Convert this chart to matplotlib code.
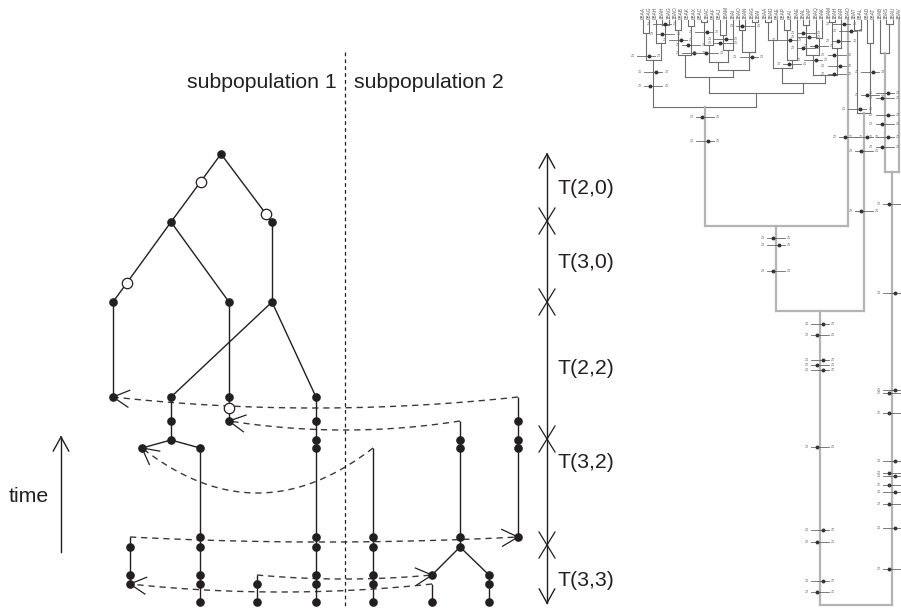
import numpy as np
import matplotlib
matplotlib.use("Agg")
import matplotlib.pyplot as plt

plt.rcParams['font.family'] = ['Liberation Sans', 'DejaVu Sans']

INK = '#231f20'

# ---------------- left coalescent diagram (pixel coordinates) ----------------
solid_edges = [
    ((221, 154), (171, 222)), ((221, 154), (272, 222)),
    ((171, 222), (113, 302)), ((171, 222), (229, 302)),
    ((272, 222), (272, 302)),
    ((113, 302), (113, 397)), ((229, 302), (229, 397)),
    ((272, 302), (171, 397)), ((272, 302), (316, 397)),
    ((171, 397), (171, 440)), ((171, 440), (142, 448)), ((171, 440), (200, 448)),
    ((200, 448), (200, 602)), ((229, 397), (229, 421)), ((316, 397), (316, 602)),
    ((130, 537), (130, 584)), ((257, 575), (257, 602)),
    ((373, 448), (373, 602)), ((460, 421), (460, 547)),
    ((460, 547), (432, 575)), ((460, 547), (489, 575)),
    ((489, 575), (489, 602)), ((432, 584), (432, 602)),
    ((518, 397), (518, 537)),
]
node_x = [221, 171, 272, 113, 229, 272,
          113, 171, 229, 316,
          171, 229, 316, 518,
          171, 316, 460, 518,
          142, 200, 316, 460, 518,
          200, 316, 373, 460, 518,
          130, 200, 316, 373, 460,
          130, 200, 316, 373, 432, 489,
          130, 200, 257, 316, 373, 489,
          200, 257, 316, 373, 432, 489]
node_y = [154, 222, 222, 302, 302, 302,
          397, 397, 397, 397,
          421, 421, 421, 421,
          440, 440, 440, 440,
          448, 448, 448, 448, 448,
          537, 537, 537, 537, 537,
          547, 547, 547, 547, 547,
          575, 575, 575, 575, 575, 575,
          584, 584, 584, 584, 584, 584,
          602, 602, 602, 602, 602, 602]
open_x = [201, 266, 127, 229]
open_y = [182, 214, 283, 408]

# migration curves: start, control, end (arrow at end)
mig_start = [(518, 397), (460, 421), (373, 448), (130, 537), (257, 575), (432, 584)]
mig_ctrl = [(315, 419), (345, 439), (257, 538), (324, 547), (345, 583), (281, 600)]
mig_end = [(113, 397), (229, 421), (142, 448), (518, 537), (432, 575), (130, 584)]

# time axis
axis_x = 547
axis_top, axis_bottom = 154, 603
cross_y = [221, 302, 439, 545]
interval_labels = ['T(2,0)', 'T(3,0)', 'T(2,2)', 'T(3,2)', 'T(3,3)']
interval_label_y = [188, 262, 368, 463, 580]

# ---------------- right genealogy (pixel coordinates) ----------------
leaf_labels = ["0BAA", "0BAG", "0BAH", "1BAH", "1BAG", "1BAO", "0BAB", "0BAK", "0BAX",
               "0BAC", "1BAC", "0BAF", "0BAJ", "1BAM", "1BAI", "1BAO", "1BAN", "1BAG",
               "1BAI", "1BAA", "1BAD", "0BAE", "0BAP", "0BAI", "1BAE", "1BAL", "1BAP",
               "1BAQ", "1BAK", "1BAM", "1BAH", "1BAR", "1BAO", "1BAT", "0BAL", "0BAD",
               "0BAT", "1BAB", "1BAS", "1BAU", "1BAV"]
tree = {
    "a0": (33, [0, 1]), "a1": (25, [3, 4]), "a2": (43, [2, "a1"]), "A1": (60, ["a0", "a2"]),
    "b1": (30, [5, 6]), "b2": (26, [7, 8]), "B3": (55, ["b1", "b2"]),
    "b4": (22, [9, 10]), "B5": (45, ["b4", 11]), "b6": (35, [12, 13]), "B7": (50, ["b6", 14]),
    "B8": (62, ["B5", "B7"]), "b9": (30, [15, 16]), "b10": (22, [17, 18]),
    "B11": (52, ["b9", "b10"]), "B12": (70, ["B8", "B11"]), "A2a": (77, ["B3", "B12"]),
    "c1": (22, [19, 20]), "C2": (40, ["c1", 21]), "c3": (30, [22, 23]), "C4": (60, ["c3", 24]),
    "C5": (68, ["C2", "C4"]), "c6": (25, [25, 26]), "c7": (38, [27, 28]),
    "C8": (55, ["c6", "c7"]), "c9": (22, [29, 30]), "C10": (48, ["c9", 31]),
    "C11": (75, ["C8", "C10"]), "A2b": (83, ["C5", "C11"]), "A2": (93, ["A2a", "A2b"]),
    "A": (107, ["A1", "A2"]), "AD": (226, ["A", 32]),
    "e0": (30, [33, 34]), "e1": (43, [35, 36]), "E": (113, ["e0", "e1"]),
    "ADE": (311, ["AD", "E"]),
    "f0": (24, [38, 39]), "f1": (53, [37, "f0"]), "F": (172, ["f1", 40]),
    "root": (605, ["ADE", "F"]),
}
# migration events: branch, height, direction
event_branch = ["A", "A", "AD", "AD", "AD", "E", "E", "E", 32, 32,
                "ADE", "ADE", "ADE", "ADE", "ADE", "ADE", "ADE", "ADE", "ADE", "ADE",
                "F", "F", "F", "F", "F", "F", "F", "F", "F", "F", "F", "F", "F",
                "f1", "f1", "f1", "f1", "f1", "f1", "e1", "e1", "e0",
                "A1", "A1", "a0", "c6", "c6", "c6", "C8", "C10", "C10", "C10",
                31, 31, "b6", "b6", "b4", "b2", "b2", "B5", 3, "a1", "b1", "C4", "c3", 16, "B11", "c7"]
event_y = [117, 141, 238, 245, 271, 137, 151, 211, 31, 137,
           324, 335, 360, 365, 370, 447, 530, 542, 581, 592,
           204, 293, 390, 393, 413, 461, 473, 476, 485, 492, 504, 528, 569,
           93, 98, 115, 124, 137, 147, 72, 95, 109,
           72, 86, 56, 33, 37, 48, 60, 55, 66, 74,
           24, 41, 39, 43, 32, 45, 53, 53, 24, 34, 40, 64, 40, 26, 57, 46]
event_dir = [-1, 1, -1, 1, -1, 1, -1, -1, 1, -1,
             1, -1, 1, -1, 1, -1, 1, -1, 1, -1,
             -1, 1, 1, -1, -1, 1, -1, 1, -1, 1, -1, 1, -1,
             1, -1, 1, -1, 1, -1, 1, -1, 1,
             1, -1, 1, -1, 1, -1, 1, -1, 1, -1,
             1, -1, 1, -1, 1, -1, 1, -1, 1, -1, 1, -1, 1, -1, 1, -1]

# ---------------- figure ----------------
fig = plt.figure(figsize=(9.01, 6.08), dpi=100)
ax = fig.add_axes([0, 0, 1, 1])
ax.set_xlim(0, 901)
ax.set_ylim(608, 0)
ax.axis('off')

FS = 15.3

# divider
ax.plot([345, 345], [52, 608], color=INK, lw=0.9, ls=(0, (3, 2.5)))
ax.text(337, 82, 'subpopulation 1', ha='right', va='center', fontsize=FS, color=INK)
ax.text(354, 82, 'subpopulation 2', ha='left', va='center', fontsize=FS, color=INK)

for (p, q) in solid_edges:
    ax.plot([p[0], q[0]], [p[1], q[1]], color=INK, lw=1.0, solid_capstyle='butt', zorder=2)


def vhead(tip, back, L=18, ang=np.deg2rad(28), **kw):
    back = np.asarray(back, float)
    back = back / np.hypot(*back)
    for s in (1, -1):
        c, sn = np.cos(s * ang), np.sin(s * ang)
        d = np.array([back[0] * c - back[1] * sn, back[0] * sn + back[1] * c])
        ax.plot([tip[0], tip[0] + L * d[0]], [tip[1], tip[1] + L * d[1]], **kw)


t = np.linspace(0, 1, 80)[:, None]
for s, c, e in zip(mig_start, mig_ctrl, mig_end):
    s, c, e = map(lambda v: np.asarray(v, float), (s, c, e))
    pts = (1 - t) ** 2 * s + 2 * (1 - t) * t * c + t ** 2 * e
    ax.plot(pts[:, 0], pts[:, 1], color='#3a3a3a', lw=1.0, ls=(0, (4.5, 3.5)), zorder=1)
    vhead(e, c - e, color=INK, lw=0.9, zorder=2)

ax.plot(node_x, node_y, 'o', ms=5.2, color=INK, mec=INK, zorder=3)
ax.plot(open_x, open_y, 'o', ms=7.5, mfc='white', mec=INK, mew=0.9, zorder=3)

# time axis
ax.plot([axis_x, axis_x], [axis_top, axis_bottom], color=INK, lw=1.0)
vhead((axis_x, axis_top), (0, 1), L=16, ang=np.deg2rad(29), color=INK, lw=1.0)
vhead((axis_x, axis_bottom), (0, -1), L=16, ang=np.deg2rad(29), color=INK, lw=1.0)
for cy in cross_y:
    ax.plot([axis_x - 8, axis_x + 8], [cy - 13, cy + 13], color=INK, lw=0.9)
    ax.plot([axis_x - 8, axis_x + 8], [cy + 13, cy - 13], color=INK, lw=0.9)
for lab, ly in zip(interval_labels, interval_label_y):
    ax.text(557, ly, lab, ha='left', va='center', fontsize=FS, color=INK)

# "time" arrow
ax.plot([61, 61], [552, 437], color=INK, lw=1.0)
vhead((61, 437), (0, 1), L=16, ang=np.deg2rad(29), color=INK, lw=1.0)
ax.text(29, 496, 'time', ha='center', va='center', fontsize=FS, color=INK)

# ---------------- right genealogy ----------------
leaf_x0, leaf_dx, leaf_top = 643, 6.4, 20
pos = {}


def place(key):
    if key in pos:
        return pos[key]
    if isinstance(key, int):
        pos[key] = (leaf_x0 + leaf_dx * key, leaf_top)
        return pos[key]
    h, kids = tree[key]
    xs = []
    deep = h >= 170
    col = '#b4b4b4' if deep else '#6e6e6e'
    lw = 1.6 if deep else 0.8
    for k in kids:
        kx, ky = place(k)
        ax.plot([kx, kx], [ky, h], color=col, lw=lw, zorder=1)
        xs.append(kx)
    ax.plot([min(xs), max(xs)], [h, h], color=col, lw=lw, zorder=1)
    pos[key] = (float(np.mean(xs)), h)
    return pos[key]


place("root")

for i, lab in enumerate(leaf_labels):
    ax.text(leaf_x0 + leaf_dx * i, leaf_top - 1, lab, rotation=90, ha='center', va='bottom',
            fontsize=3.4, color='#555555')

for br, ey, d in zip(event_branch, event_y, event_dir):
    bx = pos[br][0]
    ax.plot([bx - 9, bx + 9], [ey, ey], color='#666666', lw=0.6, zorder=2)
    ax.plot([bx + 3 * d], [ey], 'o', ms=1.8, color='#333333', zorder=3)
    left, right = ('Z2', 'Z1') if d < 0 else ('Z1', 'Z2')
    ax.text(bx - 11, ey, left, ha='right', va='center', fontsize=2.6, color='#777777')
    if bx + 16 < 901:
        ax.text(bx + 11, ey, right, ha='left', va='center', fontsize=2.6, color='#777777')

fig.savefig('out.png', dpi=100)
